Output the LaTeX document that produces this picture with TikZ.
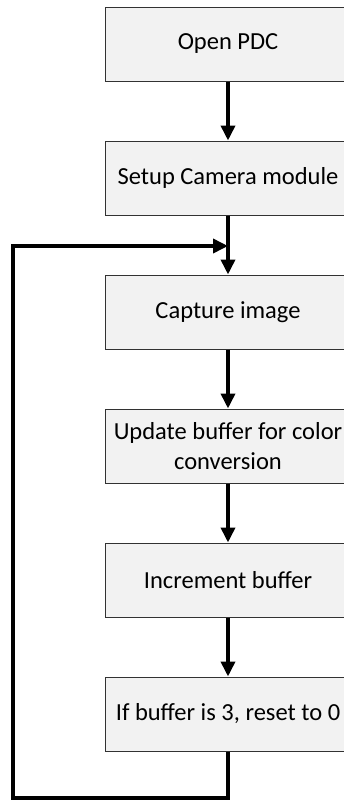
\documentclass[tikz,border=0pt]{standalone}
\usepackage{fontspec}
\setmainfont{Carlito}
\usepackage{tikz}
\usetikzlibrary{arrows.meta}

\definecolor{boxfill}{RGB}{242,242,242}
\definecolor{boxline}{RGB}{50,50,50}

\begin{document}
\begin{tikzpicture}[x=1pt, y=-1pt]
		\tikzset{stage/.style={shape = rectangle, draw = boxline, fill = boxfill, line width = 1pt,
				minimum width = 246pt, minimum height = 74pt, align = center,
				font = \fontsize{24.5}{29.5}\selectfont, inner sep = 0pt}}
		\tikzset{edge/.style={-{Triangle[width=14pt,length=15pt]}, line width = 3.6pt}}
		\useasboundingbox (0,0) rectangle (343,801);
					%vertices
					\node[stage] (open) at (228, 44) {Open PDC};
					\node[stage] (setup) at (228, 178) {Setup Camera module};
					\node[stage] (capture) at (228, 312) {Capture image};
					\node[stage] (update) at (228, 446) {Update buffer for color\\conversion};
					\node[stage] (incr) at (228, 580) {Increment buffer};
					\node[stage] (reset) at (228, 714) {If buffer is 3, reset to 0};
					\coordinate (join) at (228, 246);
					\coordinate (down) at (228, 798);
					\coordinate (corner1) at (13, 798);
					\coordinate (corner2) at (13, 246);
					%edges
					\path[edge] (open) edge (setup);
					\path[edge] (setup) edge (capture);
					\path[edge] (capture) edge (update);
					\path[edge] (update) edge (incr);
					\path[edge] (incr) edge (reset);
					\draw[edge, line join = miter] (reset.south) -- (down) -- (corner1) -- (corner2) -- (join);
					
					\end{tikzpicture}
\end{document}
